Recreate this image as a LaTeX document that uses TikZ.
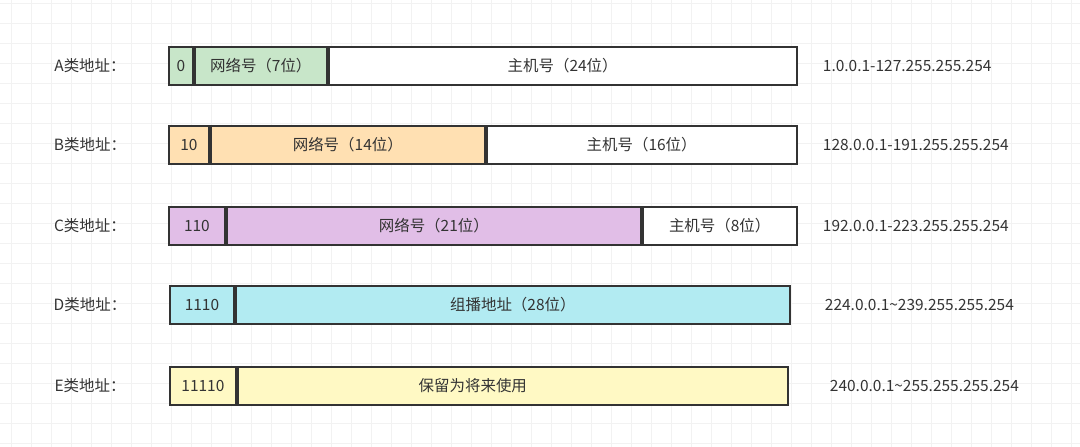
\documentclass[tikz,border=0pt]{standalone}
\usepackage{fontspec}
\setmainfont{Noto Sans CJK SC}
\usetikzlibrary{positioning}
\definecolor{netA}{HTML}{C8E6C9}
\definecolor{netB}{HTML}{FFE0B2}
\definecolor{netC}{HTML}{E1BEE7}
\definecolor{netD}{HTML}{B2EBF2}
\definecolor{netE}{HTML}{FFF9C4}
\definecolor{gridc}{HTML}{F2F2F2}
\definecolor{txt}{HTML}{333333}
\begin{document}
\begin{tikzpicture}[x=0.025cm, y=-0.025cm,
    field/.style={draw=black!80, line width=1.3pt, inner sep=0pt, anchor=west, minimum height=0.95cm, text=txt, font=\fontsize{11}{13}\selectfont},
    lbl/.style={anchor=center, text=txt, font=\fontsize{11}{13}\selectfont},
    rangetxt/.style={anchor=west, text=txt, font=\fontsize{11}{13}\selectfont},
  ]
  \useasboundingbox (0,0) rectangle (1080,447);
  \fill[white] (0,0) rectangle (1080,447);
  % background grid
  \foreach \x in {11,31,...,1071} \draw[gridc, line width=0.5pt] (\x,0) -- (\x,447);
  \foreach \y in {3,23,...,443} \draw[gridc, line width=0.5pt] (0,\y) -- (1080,\y);

  % A
  \node[lbl] (labA) at (90,66) {A类地址：};
  \node[field, fill=netA, minimum width=0.6cm] (bitA) at (168,66) {0};
  \node[field, fill=netA, minimum width=3.3cm, right=0pt of bitA] (netA) {网络号（7位）};
  \node[field, fill=white, minimum width=11.7cm, right=0pt of netA] (hostA) {主机号（24位）};
  \node[rangetxt] (rngA) at (818,66) {1.0.0.1-127.255.255.254};

  % B
  \node[lbl] (labB) at (90,145) {B类地址：};
  \node[field, fill=netB, minimum width=1cm] (bitB) at (168,145) {10};
  \node[field, fill=netB, minimum width=6.85cm, right=0pt of bitB] (netB) {网络号（14位）};
  \node[field, fill=white, minimum width=7.75cm, right=0pt of netB] (hostB) {主机号（16位）};
  \node[rangetxt] (rngB) at (818,145) {128.0.0.1-191.255.255.254};

  % C
  \node[lbl] (labC) at (90,226) {C类地址：};
  \node[field, fill=netC, minimum width=1.4cm] (bitC) at (168,226) {110};
  \node[field, fill=netC, minimum width=10.35cm, right=0pt of bitC] (netC) {网络号（21位）};
  \node[field, fill=white, minimum width=3.85cm, right=0pt of netC] (hostC) {主机号（8位）};
  \node[rangetxt] (rngC) at (818,226) {192.0.0.1-223.255.255.254};

  % D
  \node[lbl] (labD) at (90,305) {D类地址：};
  \node[field, fill=netD, minimum width=1.6cm] (bitD) at (169,305) {1110};
  \node[field, fill=netD, minimum width=13.85cm, right=0pt of bitD] (grpD) {组播地址（28位）};
  \node[rangetxt] (rngD) at (820,305) {224.0.0.1{\char"7E}239.255.255.254};

  % E
  \node[lbl] (labE) at (90,386) {E类地址：};
  \node[field, fill=netE, minimum width=1.65cm] (bitE) at (169,386) {11110};
  \node[field, fill=netE, minimum width=13.75cm, right=0pt of bitE] (resE) {\hspace*{-2cm}保留为将来使用};
  \node[rangetxt] (rngE) at (825,386) {240.0.0.1{\char"7E}255.255.255.254};
\end{tikzpicture}
\end{document}
